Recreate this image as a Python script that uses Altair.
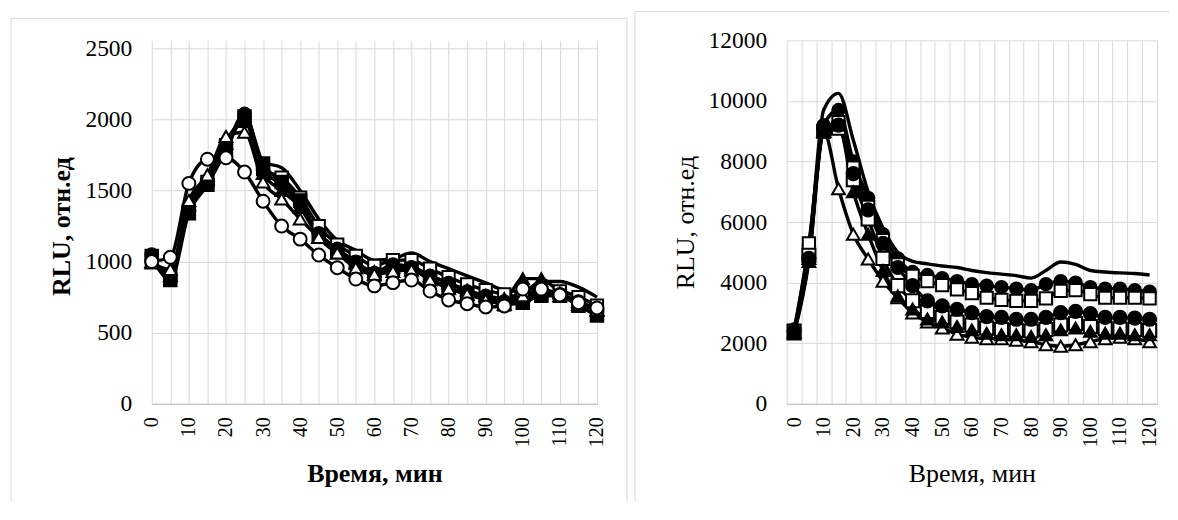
import altair as alt
import pandas as pd

# ---------------- data ----------------
times = list(range(0, 125, 5))

# left panel (RLU, 0..2500)
left_line = [1000, 920, 1420, 1600, 1850, 1990, 1700, 1660, 1500, 1300, 1150, 1080, 1010, 1020, 1060, 1000, 950, 900, 850, 800, 790, 860, 860, 820, 750]
left_open_square = [1020, 900, 1360, 1560, 1820, 1990, 1650, 1590, 1450, 1250, 1120, 1040, 970, 1010, 1010, 950, 890, 840, 800, 770, 750, 780, 790, 750, 690]
left_filled_circle = [1050, 880, 1380, 1560, 1800, 2040, 1650, 1540, 1400, 1200, 1090, 1000, 920, 980, 960, 900, 850, 790, 760, 720, 720, 790, 770, 720, 660]
left_filled_square = [1040, 870, 1340, 1540, 1780, 2020, 1690, 1560, 1430, 1180, 1080, 990, 910, 950, 950, 880, 820, 770, 740, 700, 710, 760, 760, 690, 620]
left_filled_triangle = [1000, 900, 1400, 1580, 1830, 2000, 1620, 1500, 1380, 1170, 1060, 990, 930, 960, 960, 900, 850, 800, 760, 740, 880, 880, 780, 720, 660]
left_open_triangle = [990, 945, 1430, 1610, 1880, 1910, 1560, 1440, 1300, 1170, 1060, 955, 910, 930, 940, 870, 810, 770, 730, 700, 760, 800, 760, 700, 660]
left_open_circle = [1000, 1030, 1550, 1720, 1730, 1630, 1425, 1250, 1158, 1046, 957, 877, 829, 852, 870, 793, 730, 704, 681, 688, 807, 807, 765, 711, 674]

# right panel (RLU, 0..12000)
right_line = [2400, 5000, 9700, 10250, 8700, 7000, 5800, 5000, 4700, 4620, 4550, 4500, 4400, 4330, 4280, 4230, 4150, 4400, 4680, 4600, 4400, 4350, 4320, 4300, 4250]
right_filled_circle = [2450, 5200, 9200, 9700, 8000, 6800, 5600, 4800, 4350, 4250, 4150, 4050, 3950, 3900, 3850, 3800, 3750, 3950, 4050, 4000, 3850, 3800, 3800, 3750, 3700]
right_open_square = [2350, 5300, 9000, 9300, 7800, 6500, 5400, 4600, 4220, 4050, 3920, 3780, 3650, 3500, 3430, 3400, 3400, 3480, 3730, 3750, 3620, 3500, 3500, 3500, 3480]
right_open_diamond = [2400, 4900, 9000, 9100, 7400, 6100, 4800, 3900, 3400, 3050, 2850, 2700, 2600, 2500, 2450, 2420, 2400, 2450, 2600, 2650, 2550, 2480, 2470, 2450, 2420]
right_filled_diamond = [2400, 4800, 9100, 9200, 7600, 6400, 5300, 4500, 3900, 3400, 3230, 3120, 3010, 2880, 2850, 2790, 2790, 2850, 3010, 3050, 2980, 2850, 2850, 2830, 2790]
right_open_triangle = [2350, 4800, 9000, 7100, 5600, 4780, 4050, 3500, 3000, 2700, 2500, 2300, 2200, 2150, 2150, 2100, 2050, 1950, 1900, 1950, 2050, 2150, 2200, 2150, 2050]
right_filled_triangle = [2300, 4700, 9000, 9200, 7000, 5600, 4400, 3560, 3130, 2800, 2700, 2550, 2440, 2330, 2280, 2280, 2220, 2280, 2440, 2500, 2390, 2330, 2330, 2280, 2280]

left_names = ["line", "open_square", "filled_circle", "filled_square", "filled_triangle", "open_triangle", "open_circle"]
left_values = [left_line, left_open_square, left_filled_circle, left_filled_square, left_filled_triangle, left_open_triangle, left_open_circle]

right_names = ["line", "filled_circle", "open_square", "open_diamond", "filled_diamond", "open_triangle", "filled_triangle"]
right_values = [right_line, right_filled_circle, right_open_square, right_open_diamond, right_filled_diamond, right_open_triangle, right_filled_triangle]

x_ticks_left = times
x_ticks_right = [-2.5 + 2.5 * k for k in range(51)]
y_ticks_left = [0, 500, 1000, 1500, 2000, 2500]
y_ticks_right = [0, 2000, 4000, 6000, 8000, 10000, 12000]

# marker style per series kind
kind_shape = {"open_square": "square", "filled_square": "square", "filled_circle": "circle",
              "open_circle": "circle", "filled_triangle": "triangle-up", "open_triangle": "triangle-up",
              "filled_diamond": "diamond", "open_diamond": "diamond"}
kind_fill = {k: ("black" if k.startswith("filled") else "white") for k in kind_shape}
kind_size = {"square": 150, "circle": 175, "triangle-up": 200, "diamond": 200}

FONT = "Liberation Serif"
GRID = "#d9d9d9"
FRAME = "#d9d9d9"


def panel_df(names, values):
    rows = []
    for n, vals in zip(names, values):
        for t, v in zip(times, vals):
            rows.append({"t": t, "v": v, "s": n})
    return pd.DataFrame(rows)


def panel(names, values, xdom, xvals, ydom, yvals, bold, width, height, frame):
    df = panel_df(names, values)
    marker_names = [n for n in names if n != "line"]
    weight = "bold" if bold else "normal"
    grid_op = 1
    if xdom[0] < 0:
        grid_op = {"condition": {"test": "(datum.value + 2.5) % 5 === 0", "value": 1}, "value": 0}
    x = alt.X("t:Q", scale=alt.Scale(domain=xdom, nice=False, zero=False),
              axis=alt.Axis(values=xvals, labelExpr="datum.value % 10 === 0 ? '' + datum.value : ''",
                            labelAngle=270, labelFontSize=20, labelPadding=13, labelOverlap=False,
                            labelFlush=False, ticks=False, tickSize=0, grid=True, gridColor=GRID,
                            gridOpacity=grid_op, domainColor="#bfbfbf", title="Время, мин",
                            titleFontSize=26, titleFontWeight=weight, titlePadding=14))
    y = alt.Y("v:Q", scale=alt.Scale(domain=ydom, nice=False, zero=True),
              axis=alt.Axis(values=yvals, format="d", labelFontSize=23.5, labelPadding=20, ticks=False,
                            tickSize=0, domain=False, grid=True, gridColor=GRID, title="RLU, отн.ед",
                            titleFontSize=26, titleFontWeight=weight, titlePadding=10,
                            titleY=frame["titleY"]))
    base = alt.Chart(df)
    lines = base.mark_line(color="black", strokeWidth=3.4, interpolate="monotone").encode(
        x=x, y=y, detail="s:N")
    shapes = [kind_shape[n] for n in marker_names]
    pts = base.transform_filter("datum.s !== 'line'").mark_point(
        filled=True, stroke="black", strokeWidth=2, opacity=1).encode(
        x=x, y=y,
        shape=alt.Shape("s:N", scale=alt.Scale(domain=marker_names, range=shapes), legend=None),
        fill=alt.Fill("s:N", scale=alt.Scale(domain=marker_names, range=[kind_fill[n] for n in marker_names]), legend=None),
        size=alt.Size("s:N", scale=alt.Scale(domain=marker_names, range=[kind_size[s] for s in shapes]), legend=None),
    )
    one = pd.DataFrame({"a": [0]})
    fl, fr, ft, fb = frame["l"], frame["r"], frame["t"], frame["b"]
    top = alt.Chart(one).mark_rule(color=FRAME, strokeWidth=1).encode(
        x=alt.value(fl), x2=alt.value(fr), y=alt.value(ft))
    left_edge = alt.Chart(one).mark_rule(color=FRAME, strokeWidth=1).encode(
        x=alt.value(fl), y=alt.value(ft), y2=alt.value(fb))
    layers = [top, left_edge]
    if frame.get("right_edge"):
        layers.append(alt.Chart(one).mark_rule(color=FRAME, strokeWidth=1).encode(
            x=alt.value(fr), y=alt.value(ft), y2=alt.value(fb)))
    layers += [lines, pts]
    return alt.layer(*layers).properties(width=width, height=height)


H = 364
left = panel(left_names, left_values, [0, 120], x_ticks_left, [0, 2500 * H / 356], y_ticks_left,
             True, 446, H, {"l": -141, "r": 476, "t": -22, "b": 462, "right_edge": True, "titleY": 186})
right = panel(right_names, right_values, [-2.5, 122.5], x_ticks_right, [0, 12000], y_ticks_right,
              False, 371, H, {"l": -152, "r": 383, "t": -29, "b": 462, "right_edge": False, "titleY": 182})

chart = alt.hconcat(left, right, spacing=190, bounds="flush").properties(
    padding={"left": 2, "top": 2, "right": 0, "bottom": 0}, background="white"
).configure_view(stroke=None).configure_axis(
    labelFont=FONT, titleFont=FONT, labelColor="black", titleColor="black"
)

chart.save("out.html", embed_options={"renderer": "svg", "actions": False})
